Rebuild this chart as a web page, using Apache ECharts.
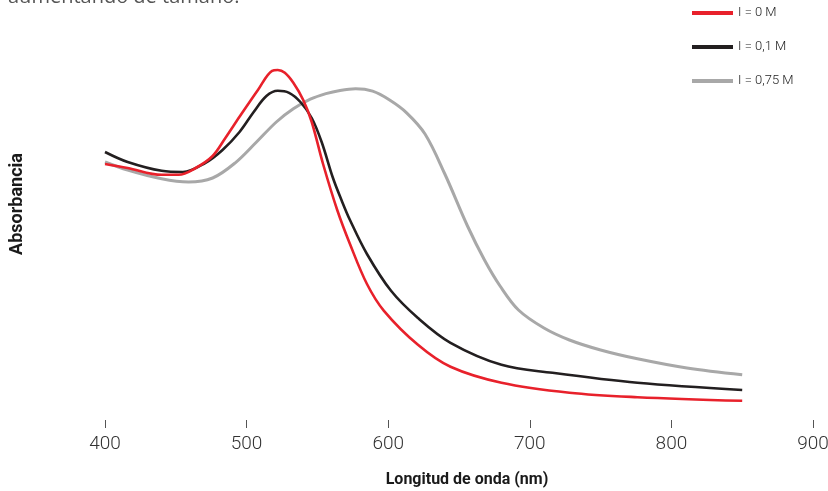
<!DOCTYPE html>
<html>
<head>
<meta charset="utf-8">
<title>Absorbancia</title>
<script src="https://cdn.jsdelivr.net/npm/echarts@6/dist/echarts.min.js"></script>
<style>
  html, body { margin: 0; padding: 0; background: #fff; }
  #chart { width: 828px; height: 491px; }
</style>
</head>
<body>
<div id="chart"></div>
<script>
// longitud de onda (nm) y absorbancia (unidades arbitrarias)
const red0Wave = [400, 416, 440, 452, 464, 476, 485, 495, 508, 518, 522, 527, 533, 540, 546, 554, 564, 573, 585, 597, 621, 644, 680, 728, 776, 850]
const red0Abs  = [66, 65, 63.3, 63.3, 65, 68, 72.5, 77.8, 84.5, 89.3, 89.5, 88.8, 86.3, 82, 76.5, 66, 54.5, 46, 36, 29.3, 20.8, 15.3, 11.3, 8.8, 7.7, 6.8]

const black01Wave = [400, 416, 440, 455, 471, 483, 495, 505, 514, 522, 530, 538, 546, 553, 561, 567, 573, 585, 602, 621, 644, 680, 716, 776, 850]
const black01Abs  = [69, 66.5, 64.3, 64, 66.3, 69.5, 74, 79, 83, 84.3, 83.8, 81.5, 77.5, 71.5, 62.5, 57, 52, 43.5, 34.3, 27.5, 21.3, 15.8, 13.8, 11.3, 9.5]

const gray075Wave = [400, 416, 440, 459, 476, 492, 507, 521, 533, 545, 556, 566, 577, 589, 601, 613, 626, 640, 656, 668, 679, 692, 710, 728, 750, 776, 811, 850]
const gray075Abs  = [66.5, 64.5, 62.3, 61.5, 62.5, 66.3, 71.5, 76.5, 79.8, 82.2, 83.6, 84.4, 84.8, 84.2, 82, 78.8, 73.5, 63.5, 50.5, 42, 35.5, 29.5, 25, 22, 19.5, 17.3, 15, 13.3]

const seriesNames = ['I = 0 M', 'I = 0,1 M', 'I = 0,75 M']
const colorArr = ['#e8212b', '#231f20', '#a8a8a8']
const xTicks = [400, 500, 600, 700, 800, 900]

const pair = (xs, ys) => xs.map((x, i) => [x, ys[i]])

const chartInstance = echarts.init(document.getElementById('chart'))

const fontName = 'Roboto, "Noto Sans", sans-serif'

const seriesArr = [
    pair(red0Wave, red0Abs),
    pair(black01Wave, black01Abs),
    pair(gray075Wave, gray075Abs)
].map((data, index) => {
    return {
        name: seriesNames[index],
        type: 'line',
        data: data,
        smooth: 0.35,
        showSymbol: false,
        lineStyle: { color: colorArr[index], width: index === 2 ? 3 : 2.6 },
        itemStyle: { color: colorArr[index] },
        z: 3 - index
    }
})

const option = {
    animation: false,
    backgroundColor: '#fff',
    grid: {
        left: 105,
        right: 15,
        top: 28,
        bottom: 71,
        outerBoundsMode: 'none'
    },
    legend: {
        data: seriesNames,
        orient: 'vertical',
        left: 687,
        top: 0,
        icon: 'rect',
        itemWidth: 41,
        itemHeight: 4,
        itemGap: 18,
        textStyle: {
            fontFamily: fontName,
            fontWeight: 300,
            fontSize: 13,
            lineHeight: 16,
            color: '#222'
        }
    },
    xAxis: {
        type: 'value',
        min: 400,
        max: 900,
        interval: 100,
        name: 'Longitud de onda (nm)',
        nameLocation: 'middle',
        nameGap: 52,
        nameTextStyle: {
            fontFamily: fontName,
            fontWeight: 'bold',
            fontSize: 16,
            color: '#1a1a1a',
            padding: [0, 0, 0, 16]
        },
        axisLine: { show: false },
        axisTick: { show: true, length: 8, lineStyle: { color: '#555', width: 1 } },
        axisLabel: {
            fontFamily: fontName,
            fontWeight: 300,
            fontSize: 19,
            color: '#333',
            margin: 15,
            formatter: v => xTicks.includes(v) ? String(v) : ''
        },
        splitLine: { show: false }
    },
    yAxis: {
        type: 'value',
        min: 2,
        max: 100,
        show: false
    },
    graphic: [
        {
            type: 'text',
            left: 8,
            top: -13,
            style: {
                text: 'aumentando de tamaño.',
                fontFamily: '"Open Sans", sans-serif',
                fontSize: 20,
                fill: '#555'
            }
        },
        {
            type: 'text',
            x: 17,
            y: 204,
            rotation: Math.PI / 2,
            style: {
                text: 'Absorbancia',
                fontFamily: fontName,
                fontWeight: 'bold',
                fontSize: 18,
                fill: '#1a1a1a',
                align: 'center',
                verticalAlign: 'middle'
            }
        }
    ],
    series: seriesArr
}

chartInstance.setOption(option)
</script>
</body>
</html>
